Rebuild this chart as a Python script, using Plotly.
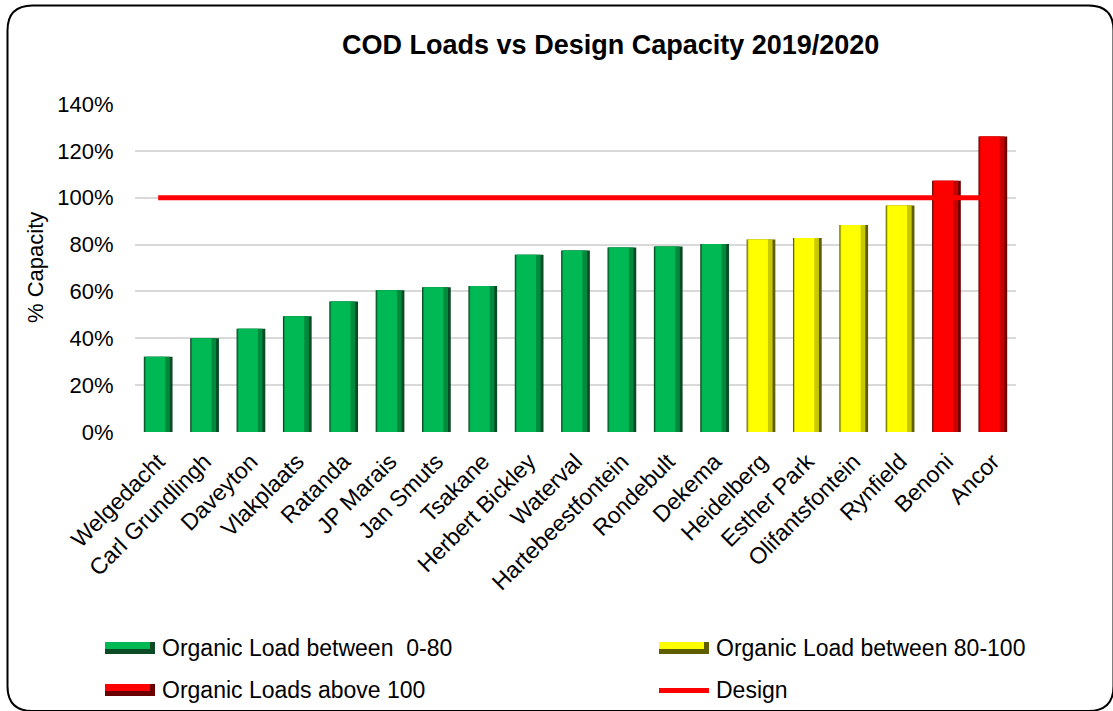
import plotly.graph_objects as go

# --- data -------------------------------------------------------------
plants = [
    "Welgedacht", "Carl Grundlingh", "Daveyton", "Vlakplaats", "Ratanda",
    "JP Marais", "Jan Smuts", "Tsakane", "Herbert Bickley", "Waterval",
    "Hartebeestfontein", "Rondebult", "Dekema", "Heidelberg", "Esther Park",
    "Olifantsfontein", "Rynfield", "Benoni", "Ancor",
]
capacity_pct = [
    32.1, 40.0, 44.1, 49.4, 55.7,
    60.5, 61.8, 62.3, 75.7, 77.5,
    78.7, 79.2, 80.2, 82.2, 82.8,
    88.4, 96.7, 107.2, 126.1,
]
load_band = [
    "low", "low", "low", "low", "low",
    "low", "low", "low", "low", "low",
    "low", "low", "low", "mid", "mid",
    "mid", "mid", "high", "high",
]
design_pct = 100
y_ticks = [0, 20, 40, 60, 80, 100, 120, 140]

band_names = {
    "low": "Organic Load between  0-80",
    "mid": "Organic Load between 80-100",
    "high": "Organic Loads above 100",
}
design_name = "Design"

# colours per band: (main face, mid shade, dark edge)
band_colors = {
    "low": ("#00b955", "#008a3e", "#0a4a24"),
    "mid": ("#ffff00", "#c9c900", "#5e5e00"),
    "high": ("#ff0000", "#c80000", "#6a0000"),
}

FONT = "Arial, 'Liberation Sans', sans-serif"

# --- layout geometry (pixels) -------------------------------------------
W, H = 1113, 711
L, R, T, B = 135, 97, 104, 279
PW, PH = W - L - R, H - T - B


def px(x):
    return (x - L) / PW


def py(y):
    return (H - B - y) / PH


fig = go.Figure()

BAR_W = 0.62
for band in ["low", "mid", "high"]:
    xs = [p for p, b in zip(plants, load_band) if b == band]
    ys = [v for v, b in zip(capacity_pct, load_band) if b == band]
    main, mid, dark = band_colors[band]
    # dark body gives the bevelled edges
    fig.add_trace(go.Bar(x=xs, y=ys, width=BAR_W, offset=-BAR_W / 2,
                         marker=dict(color=dark, line=dict(width=0)),
                         showlegend=False, hoverinfo="skip"))
    # shaded strip towards the right edge
    fig.add_trace(go.Bar(x=xs, y=ys, width=BAR_W - 0.08, offset=-BAR_W / 2 + 0.02,
                         marker=dict(color=mid, line=dict(width=0)),
                         showlegend=False, hoverinfo="skip"))
    # bright face
    fig.add_trace(go.Bar(x=xs, y=ys, width=BAR_W - 0.2, offset=-BAR_W / 2 + 0.04,
                         marker=dict(color=main, line=dict(width=0)),
                         name=band_names[band], showlegend=False))

# design capacity line across all plants
fig.add_trace(go.Scatter(x=[plants[0], plants[-1]], y=[design_pct, design_pct],
                         mode="lines", line=dict(color="#ff0000", width=5),
                         name=design_name, showlegend=False))

fig.update_layout(
    width=W, height=H,
    margin=dict(l=L, r=R, t=T, b=B),
    paper_bgcolor="white", plot_bgcolor="white",
    barmode="overlay",
    font=dict(family=FONT, color="black"),
    title=dict(text="<b>COD Loads vs Design Capacity 2019/2020</b>",
               font=dict(family=FONT, size=27, color="black"),
               x=601 / W, xanchor="center", xref="paper",
               y=1 - 45 / H, yanchor="middle", yref="container"),
    xaxis=dict(range=[-0.5, len(plants) - 0.5], tickangle=-45,
               tickfont=dict(size=23, family=FONT), showgrid=False,
               ticks="outside", ticklen=6, tickcolor="rgba(0,0,0,0)",
               showline=False, zeroline=False),
    yaxis=dict(range=[0, 140], tickvals=y_ticks,
               ticktext=[f"{v}%" for v in y_ticks],
               tickfont=dict(size=22, family=FONT),
               showgrid=True, gridcolor="#d9d9d9", gridwidth=1.5,
               ticks="outside", ticklen=16, tickcolor="rgba(0,0,0,0)",
               zeroline=False, showline=False),
    showlegend=False,
)
fig.update_xaxes(categoryorder="array", categoryarray=plants)

shapes = []
annotations = []

# rounded chart border
x0, y0, x1, y1, r = 7.5, 5.5, 1113.5, 711.0, 25
path = (f"M {px(x0)},{py(y0 + r)} Q {px(x0)},{py(y0)} {px(x0 + r)},{py(y0)} "
        f"L {px(x1 - r)},{py(y0)} Q {px(x1)},{py(y0)} {px(x1)},{py(y0 + r)} "
        f"L {px(x1)},{py(y1 - r)} Q {px(x1)},{py(y1)} {px(x1 - r)},{py(y1)} "
        f"L {px(x0 + r)},{py(y1)} Q {px(x0)},{py(y1)} {px(x0)},{py(y1 - r)} Z")
shapes.append(dict(type="path", xref="paper", yref="paper", path=path,
                   line=dict(color="black", width=2), fillcolor="rgba(0,0,0,0)",
                   layer="above"))

# legend entries: bevelled bar swatches, line swatch and labels
legend_items = [
    ("low", 105, 648, 160),
    ("mid", 659, 648, 714),
    ("high", 105, 690, 160),
]
for band, sx, sy, tx in legend_items:
    main, mid, dark = band_colors[band]
    shapes.append(dict(type="rect", xref="paper", yref="paper",
                       x0=px(sx), x1=px(sx + 50), y0=py(sy - 6), y1=py(sy + 6),
                       fillcolor=main, line=dict(width=0)))
    shapes.append(dict(type="rect", xref="paper", yref="paper",
                       x0=px(sx), x1=px(sx + 50), y0=py(sy + 1), y1=py(sy + 6),
                       fillcolor=dark, line=dict(width=0)))
    shapes.append(dict(type="rect", xref="paper", yref="paper",
                       x0=px(sx + 45), x1=px(sx + 50), y0=py(sy - 6), y1=py(sy + 6),
                       fillcolor=dark, line=dict(width=0)))
    annotations.append(dict(xref="paper", yref="paper", x=px(tx), y=py(sy),
                            xanchor="left", yanchor="middle", showarrow=False,
                            text=band_names[band],
                            font=dict(size=23, family=FONT, color="black")))

shapes.append(dict(type="line", xref="paper", yref="paper",
                   x0=px(659), x1=px(709), y0=py(690.5), y1=py(690.5),
                   line=dict(color="#ff0000", width=5)))
annotations.append(dict(xref="paper", yref="paper", x=px(714), y=py(690),
                        xanchor="left", yanchor="middle", showarrow=False,
                        text=design_name,
                        font=dict(size=23, family=FONT, color="black")))

# y-axis title
annotations.append(dict(xref="paper", yref="paper", x=px(35), y=py(268),
                        xanchor="center", yanchor="middle", showarrow=False,
                        textangle=-90, text="% Capacity",
                        font=dict(size=22, family=FONT, color="black")))

fig.update_layout(shapes=shapes, annotations=annotations)

fig.write_html("out.html")
